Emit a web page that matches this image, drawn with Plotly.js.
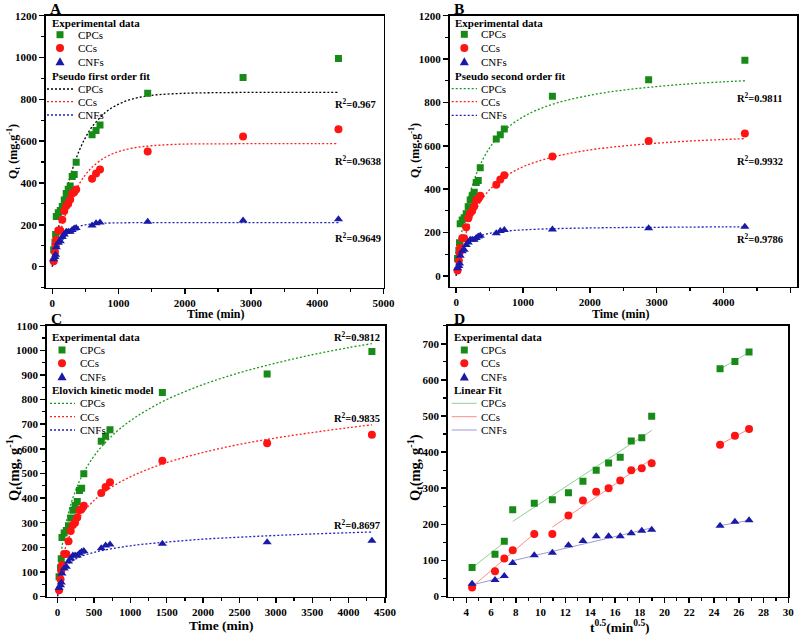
<!DOCTYPE html>
<html><head><meta charset="utf-8">
<script src="https://cdn.plot.ly/plotly-3.0.1.min.js"></script>
<style>html,body{margin:0;padding:0;background:#fff}#chart{width:800px;height:635px}</style>
</head><body><div id="chart"></div>
<script>
// ---------------- data ----------------
const seriesNames = ['CPCs', 'CCs', 'CNFs'];
const timeMin = [20,40,50,60,90,120,150,180,210,240,270,300,330,360,600,660,720,1440,2880,4320];
const qCPCs = [80,117,153,240,258,268,287,319,350,370,386,431,440,499,631,651,677,829,904,995];
const qCCs  = [25,70,105,128,173,173,224,266,290,300,321,350,355,369,420,445,464,551,622,657];
const qCNFs = [35,46,57,93,114,121,142,154,167,167,167,175,182,185,196,207,211,214,220,226];
// panel D x values: t^0.5 of the first 17 times
const sqrtTime = [4.47,6.32,7.07,7.75,9.49,10.95,12.25,13.42,14.49,15.49,16.43,17.32,18.17,18.97,24.49,25.69,26.83];

// fitted curves
const tFit = [0,20,50,100,150,200,300,400,500,600,800,1000,1200,1500,2000,2500,3000,3500,4000,4320];
// A: pseudo first order
const pfoCPCs = [0,44,105,197,277,347,462,550,617,668,737,777,801,819,829,832,833,833,833,833];
const pfoCCs  = [0,31,76,141,199,249,331,392,439,475,523,550,566,578,586,587,588,588,588,588];
const pfoCNFs = [0,24,54,95,125,147,175,191,200,204,208,209,210,210,210,210,210,210,210,210];
// B: pseudo second order
const psoCPCs = [0,57,131,231,310,373,469,538,590,631,691,733,764,797,833,857,873,886,895,900];
const psoCCs  = [0,36,83,147,200,243,309,359,397,427,471,503,526,552,581,599,612,622,629,633];
const psoCNFs = [0,42,83,122,144,159,178,189,196,201,208,212,215,218,221,223,224,225,226,226];
// C: Elovich
const eloCPCs = [0,89,178,274,341,392,469,525,570,607,667,714,752,800,861,909,948,982,1011,1027];
const eloCCs  = [0,62,123,190,235,270,321,359,390,415,455,486,512,544,585,618,644,666,686,697];
const eloCNFs = [0,62,93,118,133,144,160,171,179,186,197,206,213,221,233,241,248,254,259,262];
// D: linear fit segments (intraparticle diffusion)
const linX_CPCs = [4.47,7.07,null,7.75,18.97,null,24.49,26.83];
const linY_CPCs = [79,150,null,208,460,null,630,676];
const linX_CCs  = [4.47,9.49,null,10.95,18.97,null,24.49,26.83];
const linY_CCs  = [27,174,null,192,381,null,421,464];
const linX_CNFs = [4.47,7.07,null,7.75,18.97,null,24.49,26.83];
const linY_CNFs = [32,54,null,99,190,null,196,211];

const r2A = ['0.967','0.9638','0.9649'];
const r2B = ['0.9811','0.9932','0.9786'];
const r2C = ['0.9812','0.9835','0.8697'];

// ---------------- styles ----------------
const W = 800, H = 635;
const px = x => x / W, py = y => 1 - y / H;
const FONT = 'Liberation Serif, Times New Roman, serif';
const mColors = ['#178a17', '#ff1414', '#1a1aa8'];
const mSymbols = ['square', 'circle', 'triangle-up'];
const mSizes = [7, 8, 8];
const DOT = '2px,2px';
const LEG = 11;

const traces = [];
const qAll = [qCPCs, qCCs, qCNFs];
function addMarkers(xs, axSuffix, n) {
  for (let i = 0; i < 3; i++) {
    traces.push({
      type: 'scatter', mode: 'markers', showlegend: false,
      x: xs, y: qAll[i].slice(0, n), name: seriesNames[i],
      xaxis: 'x' + axSuffix, yaxis: 'y' + axSuffix,
      marker: {symbol: mSymbols[i], size: mSizes[i], color: mColors[i], line: {width: 0}}
    });
  }
}
function addFits(xsList, ys, colors, axSuffix, dash, width, shape) {
  for (let i = 0; i < 3; i++) {
    traces.push({
      type: 'scatter', mode: 'lines', showlegend: false,
      x: xsList[i], y: ys[i],
      xaxis: 'x' + axSuffix, yaxis: 'y' + axSuffix, connectgaps: false,
      line: {color: colors[i], dash: dash, width: width, shape: shape}
    });
  }
}
addFits([tFit, tFit, tFit], [pfoCPCs, pfoCCs, pfoCNFs], ['#000000', '#ff2020', '#2020c0'], '', DOT, 1.3, 'spline');
addMarkers(timeMin, '', timeMin.length);
addFits([tFit, tFit, tFit], [psoCPCs, psoCCs, psoCNFs], ['#1a9a1a', '#ff2020', '#2020c0'], '2', DOT, 1.3, 'spline');
addMarkers(timeMin, '2', timeMin.length);
addFits([tFit, tFit, tFit], [eloCPCs, eloCCs, eloCNFs], ['#1a9a1a', '#ff2020', '#2020c0'], '3', DOT, 1.3, 'spline');
addMarkers(timeMin, '3', timeMin.length);
addFits([linX_CPCs, linX_CCs, linX_CNFs], [linY_CPCs, linY_CCs, linY_CNFs], ['#8fd08f', '#ff8a8a', '#9a9ad8'], '4', 'solid', 1, 'linear');
addMarkers(sqrtTime, '4', sqrtTime.length);

// ---------------- axes ----------------
function xAx(dom, range, dtick, minorD, tsize, anchor) {
  return {
    domain: [px(dom[0]), px(dom[1])], range: range, anchor: anchor,
    tick0: 0, dtick: dtick, ticks: 'outside', ticklen: 5, tickwidth: 1.5, tickcolor: '#000',
    minor: {dtick: minorD, ticks: 'outside', ticklen: 3, tickwidth: 1.2, tickcolor: '#000', showgrid: false},
    showline: true, linecolor: '#000', linewidth: 1.5, mirror: true, showgrid: false, zeroline: false,
    tickfont: {family: FONT, size: tsize, color: '#000', weight: 'bold'},
    automargin: false
  };
}
function yAx(dom, range, dtick, minorD, tsize, anchor) {
  const a = xAx([0, 0], range, dtick, minorD, tsize, anchor);
  a.domain = [py(dom[1]), py(dom[0])];
  return a;
}
const layout = {
  width: W, height: H, margin: {l: 0, r: 0, t: 0, b: 0},
  paper_bgcolor: '#fff', plot_bgcolor: '#fff', showlegend: false,
  font: {family: FONT, color: '#000'},
  xaxis:  xAx([45.7, 383.5], [-100, 5000], 1000, 500, 11, 'y'),
  yaxis:  yAx([15.7, 287.5], [-100, 1200], 200, 100, 11, 'x'),
  xaxis2: xAx([449.5, 797], [-100, 5100], 1000, 500, 11, 'y2'),
  yaxis2: yAx([15.7, 286.7], [-50, 1200], 200, 100, 11, 'x2'),
  xaxis3: xAx([46.7, 385], [-150, 4500], 500, 250, 11, 'y3'),
  yaxis3: yAx([325.7, 596.5], [0, 1100], 100, 50, 11, 'x3'),
  xaxis4: xAx([447.7, 788.3], [2.5, 30], 2, 1, 11, 'y4'),
  yaxis4: yAx([325.7, 596.5], [0, 750], 100, 50, 11, 'x4'),
  annotations: [], shapes: []
};

// ---------------- titles, panel letters, R² labels, hand-built legends ----------------
const ann = layout.annotations, shp = layout.shapes;
function text(t, x, y, size, bold, anchor, angle) {
  ann.push({xref: 'paper', yref: 'paper', x: px(x), y: py(y), text: t, showarrow: false,
    xanchor: anchor || 'left', yanchor: 'middle', textangle: angle || 0,
    font: {family: FONT, size: size, color: '#000', weight: bold ? 'bold' : 'normal'}});
}
// axis titles
const axisTitles = [
  ['Time (min)', 215, 314, 12, 0],
  ['Q<sub>t</sub> (mg.g<sup>-1</sup>)', 13, 152, 12, -90],
  ['Time (min)', 620, 314, 12, 0],
  ['Q<sub>t</sub> (mg.g<sup>-1</sup>)', 415, 151, 12, -90],
  ['Time (min)', 221, 625, 13.5, 0],
  ['Q<sub>t</sub>(mg, g<sup>-1</sup>)', 14, 468, 14.5, -90],
  ['t<sup>0.5</sup>(min<sup>0.5</sup>)', 620, 626, 13.5, 0],
  ['Q<sub>t</sub>(mg, g<sup>-1</sup>)', 415, 468, 14.5, -90]
];
axisTitles.forEach(a => text(a[0], a[1], a[2], a[3], true, 'center', a[4]));

[['A', 56, 8], ['B', 459, 8], ['C', 56, 318], ['D', 460, 318]].forEach(p => text(p[0], p[1], p[2], 15.5, true, 'center'));

const r2Pos = [
  [r2A, 333, [103, 160, 237]],
  [r2B, 735, [97, 160.7, 239]],
  [r2C, 332, [336, 417, 524]]
];
r2Pos.forEach(([vals, x, ys]) => vals.forEach((v, i) => text('R<sup>2</sup>=' + v, x, ys[i], 10.5, true)));

const legends = [
  {hx: 50, hy1: 22.5, mx: 60, tx: 76, itemY: [34.7, 48, 61.7], h2: 'Pseudo first order fit', hy2: 76, lx0: 47, lx1: 74, lineY: [89, 101.7, 115], lcol: ['#000000', '#ff2020', '#2020c0'], dash: DOT, lw: 1.3},
  {hx: 452.7, hy1: 22.7, mx: 464.3, tx: 479.3, itemY: [34.3, 48, 61.7], h2: 'Pseudo second order fit', hy2: 75.7, lx0: 451.7, lx1: 477, lineY: [88.7, 101.7, 115.3], lcol: ['#1a9a1a', '#ff2020', '#2020c0'], dash: DOT, lw: 1.3},
  {hx: 50, hy1: 336.7, mx: 62, tx: 77.7, itemY: [350, 363.3, 376.7], h2: 'Elovich kinetic model', hy2: 390, lx0: 50, lx1: 75, lineY: [403.3, 416.7, 430], lcol: ['#1a9a1a', '#ff2020', '#2020c0'], dash: DOT, lw: 1.3},
  {hx: 451.7, hy1: 336.7, mx: 464.3, tx: 479.3, itemY: [350, 363.3, 377], h2: 'Linear Fit', hy2: 390, lx0: 451.7, lx1: 476.7, lineY: [403.3, 416.7, 430], lcol: ['#8fd08f', '#ff8a8a', '#9a9ad8'], dash: 'solid', lw: 1}
];
legends.forEach(L => {
  text('Experimental data', L.hx, L.hy1, LEG, true);
  text(L.h2, L.hx, L.hy2, LEG, true);
  L.itemY.forEach((y, i) => {
    text(seriesNames[i], L.tx, y, LEG, false);
    const c = mColors[i], m = L.mx;
    if (i === 0) shp.push({type: 'rect', xref: 'paper', yref: 'paper', x0: px(m - 3.5), x1: px(m + 3.5), y0: py(y + 3.5), y1: py(y - 3.5), fillcolor: c, line: {width: 0}});
    if (i === 1) shp.push({type: 'circle', xref: 'paper', yref: 'paper', x0: px(m - 4), x1: px(m + 4), y0: py(y + 4), y1: py(y - 4), fillcolor: c, line: {width: 0}});
    if (i === 2) shp.push({type: 'path', xref: 'paper', yref: 'paper', path: `M ${px(m - 4.5)},${py(y + 3.5)} L ${px(m + 4.5)},${py(y + 3.5)} L ${px(m)},${py(y - 4.5)} Z`, fillcolor: c, line: {width: 0}});
  });
  L.lineY.forEach((y, i) => {
    text(seriesNames[i], L.tx, y, LEG, false);
    shp.push({type: 'line', xref: 'paper', yref: 'paper', x0: px(L.lx0), x1: px(L.lx1), y0: py(y), y1: py(y), line: {color: L.lcol[i], width: L.lw, dash: L.dash}});
  });
});

Plotly.newPlot('chart', traces, layout, {staticPlot: true, displayModeBar: false});
</script></body></html>
